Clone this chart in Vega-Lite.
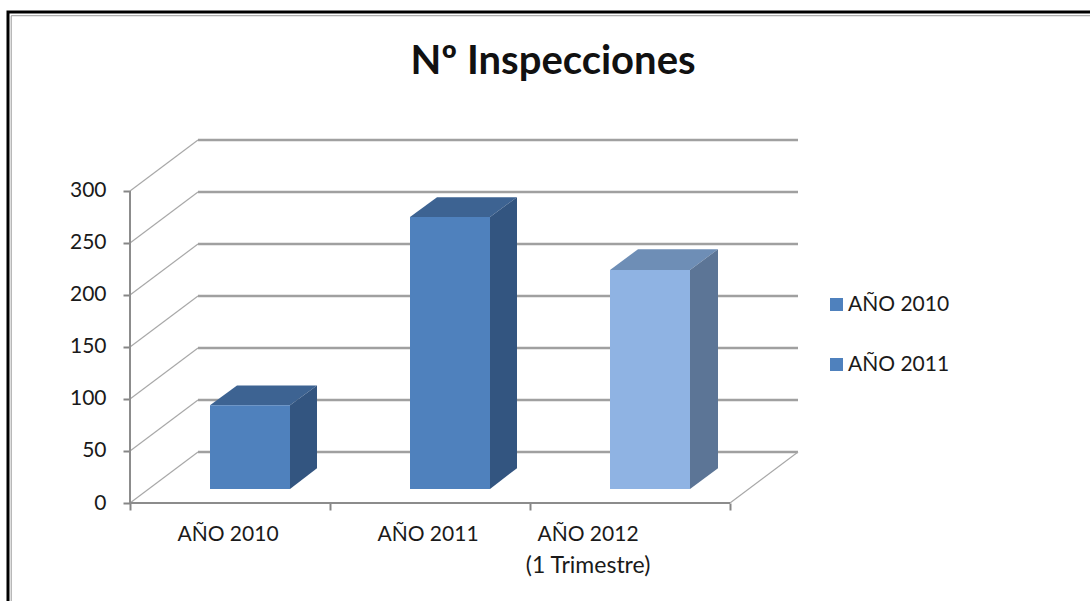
{
"$schema":"https://vega.github.io/schema/vega-lite/v6.json",
"width":668,"height":363,
"autosize":{"type":"none"},
"padding":{"left":130,"top":140,"right":292,"bottom":98},
"background":"#ffffff",
"config":{"view":{"stroke":null}},
"title":{"text":"Nº Inspecciones","font":"Lato","fontSize":40,"fontWeight":"bold","color":"#111111","anchor":"middle","frame":"group","dx":89,"offset":-76},
"encoding":{
"x":{"field":"x","type":"quantitative","scale":{"domain":[0,3.34],"nice":false,"zero":false},
"axis":{"title":null,"values":[0,1,2,3],"labels":false,"grid":false,"domain":false,"tickColor":"#868686","tickWidth":2,"tickSize":7}},
"y":{"field":"y","type":"quantitative","scale":{"domain":[0,349],"nice":false,"zero":false},
"axis":{"title":null,"values":[0,50,100,150,200,250,300],"grid":false,"domain":false,"tickColor":"#868686","tickWidth":2,"tickSize":7,"labelPadding":17,"labelFont":"Lato","labelFontSize":21,"labelColor":"#1a1a1a"}}
},
"layer":[
{"data":{"values":[
{"i":1,"x":-0.61,"y":-95},{"i":2,"x":-0.61,"y":472},{"i":3,"x":4.83,"y":472}]},
"mark":{"type":"line","color":"#000000","strokeWidth":3,"clip":false},
"encoding":{"order":{"field":"i"}}},
{"data":{"values":[
{"i":1,"x":-0.594,"y":-95},{"i":2,"x":-0.594,"y":468.5},{"i":3,"x":4.83,"y":468.5}]},
"mark":{"type":"line","color":"#999999","strokeWidth":1,"clip":false},
"encoding":{"order":{"field":"i"}}},
{"data":{"values":[
{"g":0,"x":0.34,"y":49},{"g":0,"x":3.34,"y":49},
{"g":50,"x":0.34,"y":99},{"g":50,"x":3.34,"y":99},
{"g":100,"x":0.34,"y":149},{"g":100,"x":3.34,"y":149},
{"g":150,"x":0.34,"y":199},{"g":150,"x":3.34,"y":199},
{"g":200,"x":0.34,"y":249},{"g":200,"x":3.34,"y":249},
{"g":250,"x":0.34,"y":299},{"g":250,"x":3.34,"y":299},
{"g":300,"x":0.34,"y":349},{"g":300,"x":3.34,"y":349}]},
"mark":{"type":"line","color":"#a0a0a0","strokeWidth":2.5,"clip":false},
"encoding":{"detail":{"field":"g"}}},
{"data":{"values":[
{"g":0,"x":0,"y":0},{"g":0,"x":0.34,"y":49},
{"g":50,"x":0,"y":50},{"g":50,"x":0.34,"y":99},
{"g":100,"x":0,"y":100},{"g":100,"x":0.34,"y":149},
{"g":150,"x":0,"y":150},{"g":150,"x":0.34,"y":199},
{"g":200,"x":0,"y":200},{"g":200,"x":0.34,"y":249},
{"g":250,"x":0,"y":250},{"g":250,"x":0.34,"y":299},
{"g":300,"x":0,"y":300},{"g":300,"x":0.34,"y":349},
{"g":-1,"x":3,"y":0},{"g":-1,"x":3.34,"y":49}]},
"mark":{"type":"line","color":"#a8a8a8","strokeWidth":1.2,"clip":false},
"encoding":{"detail":{"field":"g"}}},
{"data":{"values":[
{"g":"y","x":0,"y":0},{"g":"y","x":0,"y":300},
{"g":"x","x":0,"y":0},{"g":"x","x":3,"y":0}]},
"mark":{"type":"line","color":"#8c8c8c","strokeWidth":2,"clip":false},
"encoding":{"detail":{"field":"g"}}},
{"data":{"values":[
{"id":"a-top","face":"top","x":0.4,"y":94,"y2":94},{"id":"a-top","face":"top","x":0.535,"y":94,"y2":113},{"id":"a-top","face":"top","x":0.8,"y":94,"y2":113},{"id":"a-top","face":"top","x":0.935,"y":113,"y2":113},
{"id":"a-side","face":"side","x":0.8,"y":13.5,"y2":94},{"id":"a-side","face":"side","x":0.935,"y":33.5,"y2":113},
{"id":"b-top","face":"top","x":1.4,"y":275,"y2":275},{"id":"b-top","face":"top","x":1.535,"y":275,"y2":294},{"id":"b-top","face":"top","x":1.8,"y":275,"y2":294},{"id":"b-top","face":"top","x":1.935,"y":294,"y2":294},
{"id":"b-side","face":"side","x":1.8,"y":13.5,"y2":275},{"id":"b-side","face":"side","x":1.935,"y":33.5,"y2":294},
{"id":"c-top","face":"top3","x":2.4,"y":224,"y2":224},{"id":"c-top","face":"top3","x":2.54,"y":224,"y2":244},{"id":"c-top","face":"top3","x":2.8,"y":224,"y2":244},{"id":"c-top","face":"top3","x":2.94,"y":244,"y2":244},
{"id":"c-side","face":"side3","x":2.8,"y":13.5,"y2":224},{"id":"c-side","face":"side3","x":2.94,"y":33.5,"y2":244}]},
"mark":{"type":"area","clip":false},
"encoding":{
"y2":{"field":"y2"},
"detail":{"field":"id"},
"color":{"field":"face","type":"nominal","legend":null,"scale":{"domain":["top","side","top3","side3"],"range":["#3d6392","#335580","#6e8eb6","#5c7596"]}}}},
{"data":{"values":[
{"serie":"AÑO 2010","x":0.4,"x2":0.8,"y":13.5,"y2":94},
{"serie":"AÑO 2011","x":1.4,"x2":1.8,"y":13.5,"y2":275},
{"serie":"AÑO 2012","x":2.4,"x2":2.8,"y":13.5,"y2":224}]},
"mark":{"type":"rect"},
"encoding":{
"x2":{"field":"x2"},"y2":{"field":"y2"},
"fill":{"field":"serie","type":"nominal","scale":{"domain":["AÑO 2010","AÑO 2011","AÑO 2012"],"range":["#4f81bd","#4f81bd","#8fb3e3"]},
"legend":{"title":null,"values":["AÑO 2010","AÑO 2011"],"orient":"none","legendX":696,"legendY":154,"symbolType":"square","symbolSize":169,"symbolStrokeWidth":0,"labelFont":"Lato","labelFontSize":21,"labelColor":"#1a1a1a","labelOffset":1,"rowPadding":38}}}},
{"data":{"values":[
{"x":0.49,"y":-31,"label":"AÑO 2010"},
{"x":1.49,"y":-31,"label":"AÑO 2011"},
{"x":2.29,"y":-31,"label":"AÑO 2012"}]},
"mark":{"type":"text","font":"Lato","fontSize":21,"color":"#1a1a1a","align":"center","baseline":"middle","clip":false},
"encoding":{"text":{"field":"label"}}},
{"data":{"values":[
{"x":2.29,"y":-61,"label":"(1 Trimestre)"}]},
"mark":{"type":"text","font":"Lato","fontSize":23,"color":"#1a1a1a","align":"center","baseline":"middle","clip":false},
"encoding":{"text":{"field":"label"}}}
]
}
